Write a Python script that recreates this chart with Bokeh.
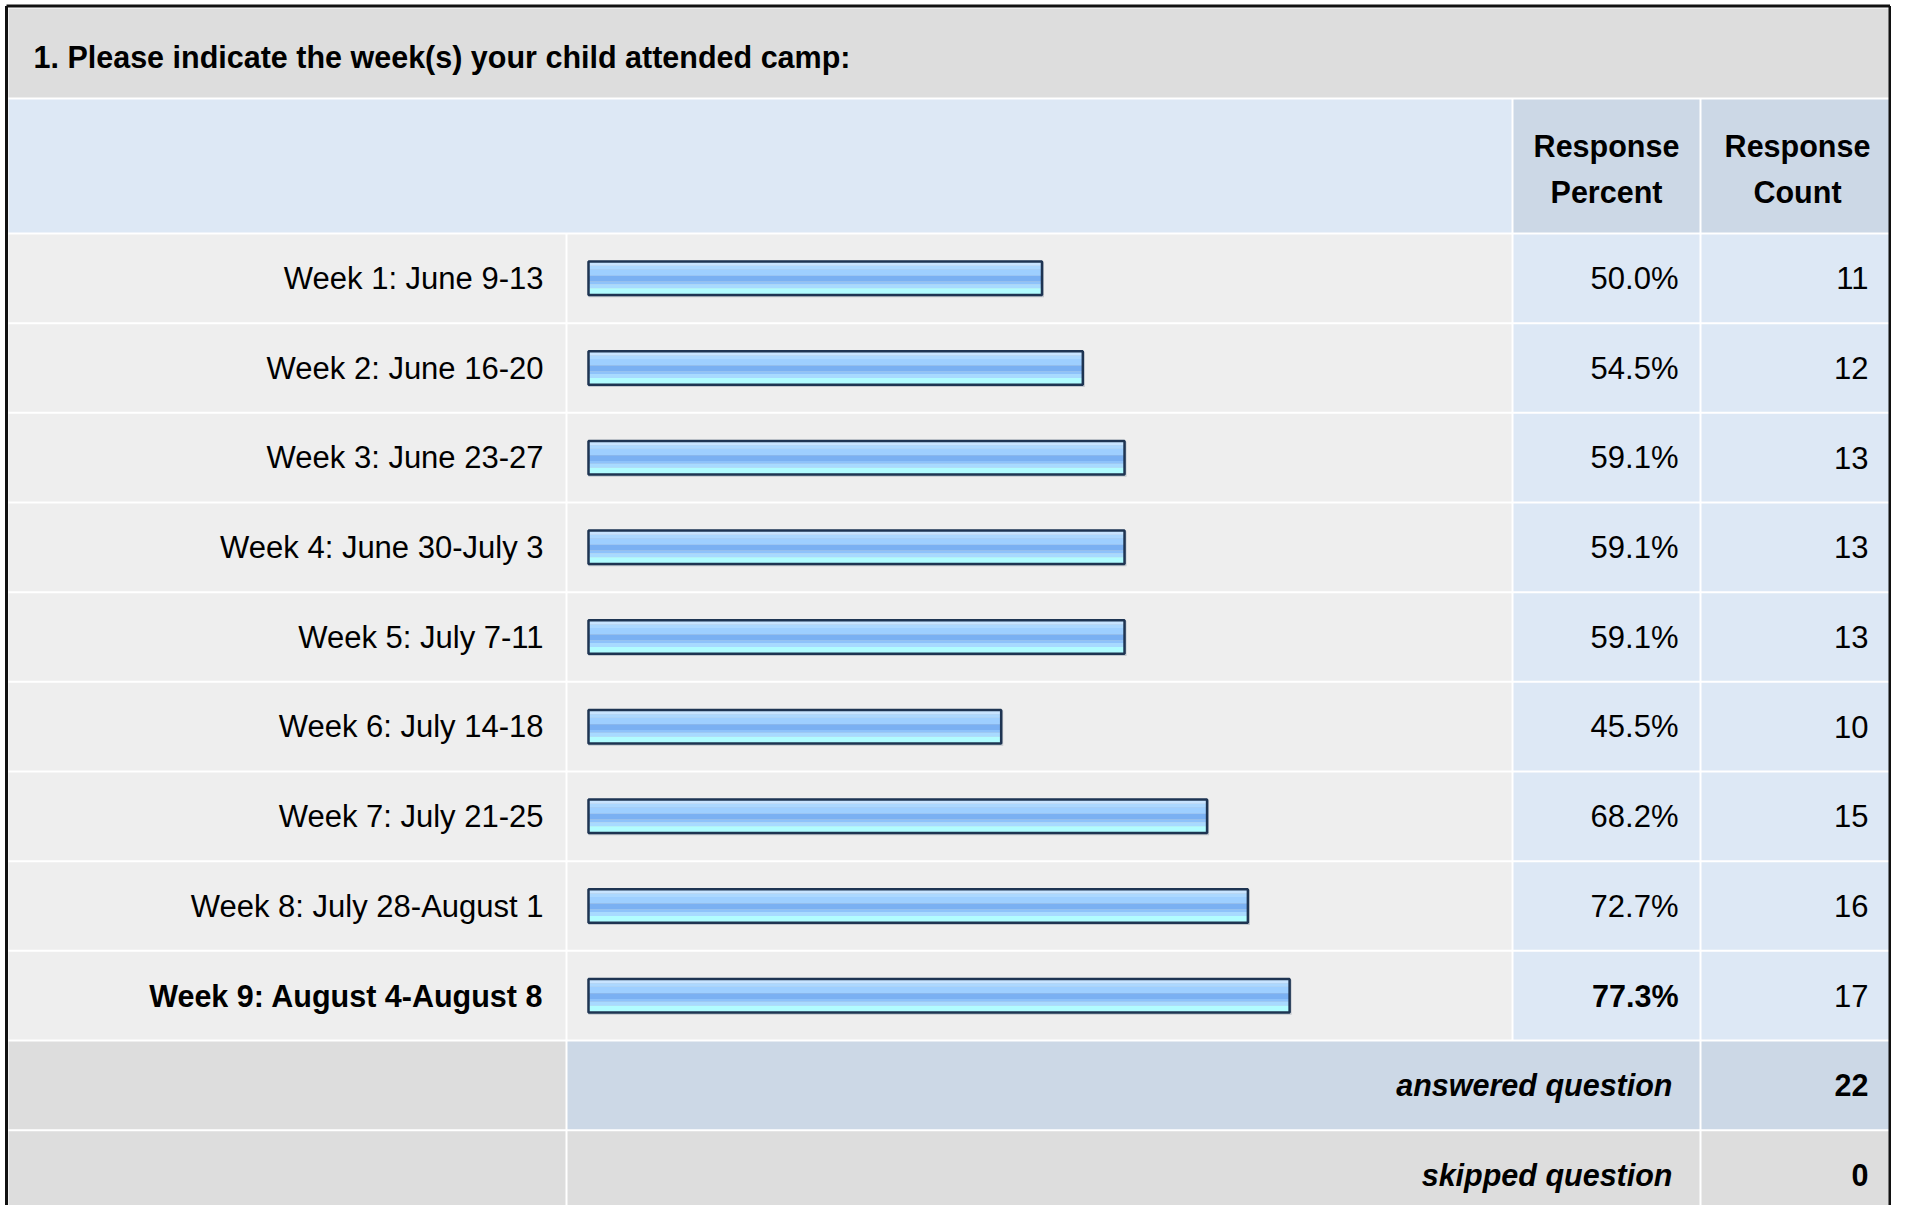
from bokeh.plotting import figure
from bokeh.models import Range1d, ColumnDataSource
from bokeh.core.properties import value
from bokeh.embed import file_html
from bokeh.resources import INLINE

# ---------------- data ----------------
question = "1. Please indicate the week(s) your child attended camp:"
weeks = [
    "Week 1: June 9-13",
    "Week 2: June 16-20",
    "Week 3: June 23-27",
    "Week 4: June 30-July 3",
    "Week 5: July 7-11",
    "Week 6: July 14-18",
    "Week 7: July 21-25",
    "Week 8: July 28-August 1",
    "Week 9: August 4-August 8",
]
percents = [50.0, 54.5, 59.1, 59.1, 59.1, 45.5, 68.2, 72.7, 77.3]
counts = [11, 12, 13, 13, 13, 10, 15, 16, 17]
header_percent = ["Response", "Percent"]
header_count = ["Response", "Count"]
answered_label = "answered question"
skipped_label = "skipped question"
answered = 22
skipped = 0

# ---------------- layout (reference pixel positions) ----------------
BAR0 = 588.0          # pixel of 0 %
PX_PER_PCT = 9.07     # pixels per percent


def X(px):
    return (px - BAR0) / PX_PER_PCT


ROW0 = 233.0
ROW_H = 89.67
COLS = {"label": (8, 565), "bar": (567, 1511), "pct": (1513, 1699), "cnt": (1701, 1894)}
FONT = value("Liberation Sans")
FS = "31px"
FSB = "30.5px"
DARK = "#000000"

W, H = 1891, 1205
p = figure(width=W, height=H,
           x_range=Range1d(X(0), X(W)), y_range=Range1d(H, 0),
           output_backend="svg", toolbar_location=None, min_border=0,
           x_axis_location=None, y_axis_location=None)
p.outline_line_color = None
p.grid.visible = False
p.background_fill_color = "white"
p.border_fill_color = "white"

# ---------------- cell backgrounds ----------------
L, R, T, B, C = [], [], [], [], []


def cell(x0, x1, y0, y1, c):
    L.append(X(x0)); R.append(X(x1)); T.append(y0); B.append(y1); C.append(c)


cell(8, 1894, 8, 97, "#DDDDDD")                  # title band
cell(8, 1511, 99, 232, "#DDE8F5")                # header blank
cell(*COLS["pct"], 99, 232, "#CCD8E6")
cell(*COLS["cnt"], 99, 232, "#CCD8E6")
n = len(weeks)
for i in range(n):
    t = ROW0 + i * ROW_H + 1
    b = ROW0 + (i + 1) * ROW_H - 1
    cell(*COLS["label"], t, b, "#EEEEEE")
    cell(*COLS["bar"], t, b, "#EEEEEE")
    cell(*COLS["pct"], t, b, "#DDE8F5")
    cell(*COLS["cnt"], t, b, "#DDE8F5")
ta = ROW0 + n * ROW_H + 1
ba = ROW0 + (n + 1) * ROW_H - 1
cell(*COLS["label"], ta, ba, "#DDDDDD")
cell(567, 1699, ta, ba, "#CCD8E6")
cell(*COLS["cnt"], ta, ba, "#CCD8E6")
ts = ROW0 + (n + 1) * ROW_H + 1
bs = ROW0 + (n + 2) * ROW_H - 1
cell(*COLS["label"], ts, bs, "#DDDDDD")
cell(567, 1699, ts, bs, "#DDDDDD")
cell(*COLS["cnt"], ts, bs, "#DDDDDD")

p.quad(left=L, right=R, top=T, bottom=B, fill_color=C, line_color=None)

# outer frame
p.multi_line(xs=[[X(6), X(6)], [X(6), X(1889.5)], [X(1889.5), X(1889.5)]],
             ys=[[1300, 5.5], [5.5, 5.5], [5.5, 1300]],
             line_color="#111111", line_width=3)

# ---------------- bars ----------------
centers = [ROW0 + (i + 0.5) * ROW_H for i in range(n)]
src = ColumnDataSource(dict(y=centers, pct=percents))
BAR_H = 35.0
# soft shadow
shadow = ColumnDataSource(dict(y=[c + 1.5 for c in centers],
                               r=[v + 2.0 / PX_PER_PCT for v in percents]))
p.hbar(y="y", left=0, right="r", height=BAR_H, source=shadow,
       fill_color="#C4C8CE", line_color=None)
stripes = [  # (offset from top, height, colour)
    (0.0, 5.0, "#C8E4FF"),
    (5.0, 3.5, "#ACD8FF"),
    (8.5, 6.5, "#9ECFFF"),
    (15.0, 5.7, "#7AB0F2"),
    (20.7, 2.8, "#8EC2FA"),
    (23.5, 4.0, "#A8DAFF"),
    (27.5, 7.5, "#B2FCFF"),
]
for off, h, col in stripes:
    s = ColumnDataSource(dict(y=[c - BAR_H / 2 + off + h / 2 for c in centers], pct=percents))
    p.hbar(y="y", left=0, right="pct", height=h, source=s,
           fill_color=col, line_color=None)
p.hbar(y="y", left=0, right="pct", height=BAR_H - 1.5, source=src,
       fill_color=None, line_color="#1E3452", line_width=2.5)

# ---------------- texts ----------------
top_i = percents.index(max(percents))
styles = ["bold" if i == top_i else "normal" for i in range(n)]
sizes = [FSB if i == top_i else FS for i in range(n)]

p.text(x=[X(33)], y=[56], text=[question], text_font=FONT, text_font_size=FSB,
       text_font_style="bold", text_color=DARK, text_align="left", text_baseline="middle")

p.text(x=[X(1606)] * 2, y=[145, 191], text=header_percent, text_font=FONT,
       text_font_size=FSB, text_font_style="bold", text_color=DARK,
       text_align="center", text_baseline="middle")
p.text(x=[X(1797)] * 2, y=[145, 191], text=header_count, text_font=FONT,
       text_font_size=FSB, text_font_style="bold", text_color=DARK,
       text_align="center", text_baseline="middle")

lab = ColumnDataSource(dict(
    y=centers, week=weeks, style=styles, size=sizes,
    pct=[f"{v:.1f}%" for v in percents],
    cnt=[str(c) for c in counts],
    lx=[X(543)] * n, px=[X(1678)] * n, cx=[X(1868)] * n,
))
p.text(x="lx", y="y", text="week", source=lab, text_font=FONT, text_font_size="size",
       text_font_style="style", text_color=DARK, text_align="right", text_baseline="middle")
p.text(x="px", y="y", text="pct", source=lab, text_font=FONT, text_font_size="size",
       text_font_style="style", text_color=DARK, text_align="right", text_baseline="middle")
p.text(x="cx", y="y", text="cnt", source=lab, text_font=FONT, text_font_size=FS,
       text_color=DARK, text_align="right", text_baseline="middle")

ya = ROW0 + (n + 0.5) * ROW_H
ys = ROW0 + (n + 1.5) * ROW_H
p.text(x=[X(1672)] * 2, y=[ya, ys], text=[answered_label, skipped_label], text_font=FONT,
       text_font_size=FSB, text_font_style="bold italic", text_color=DARK,
       text_align="right", text_baseline="middle")
p.text(x=[X(1868)] * 2, y=[ya, ys], text=[str(answered), str(skipped)], text_font=FONT,
       text_font_size=FSB, text_font_style="bold", text_color=DARK,
       text_align="right", text_baseline="middle")

open("out.html", "w").write(file_html(p, INLINE))
